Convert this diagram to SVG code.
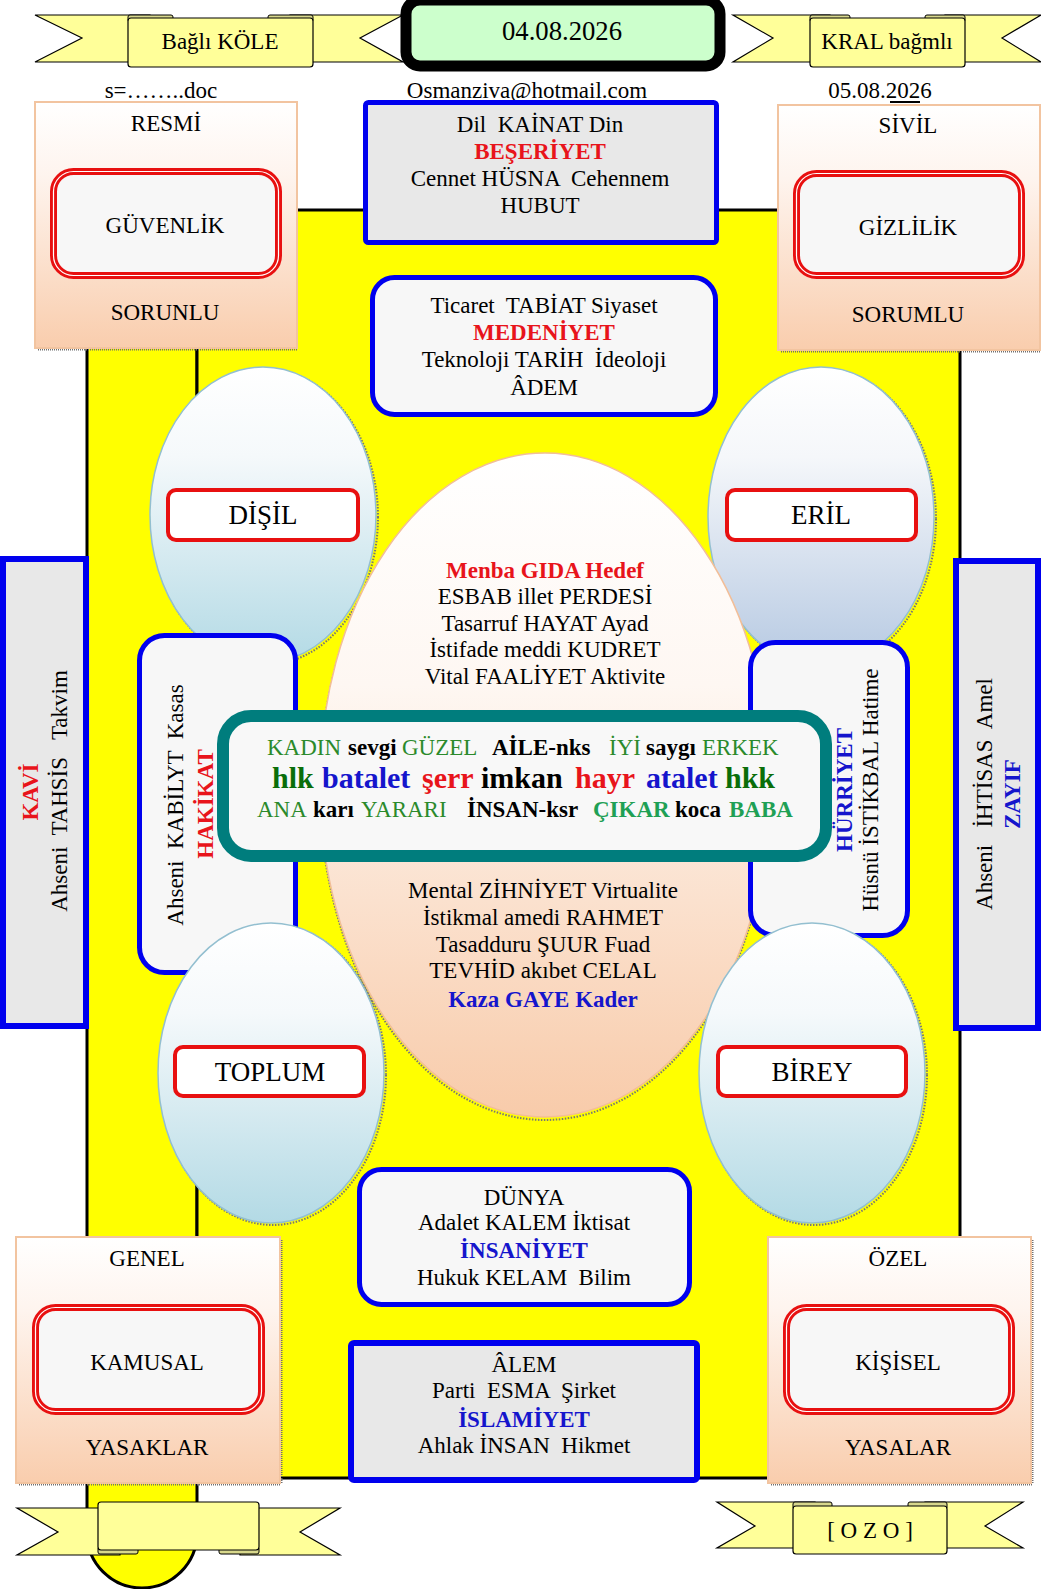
<svg xmlns="http://www.w3.org/2000/svg" width="1041" height="1589" viewBox="0 0 1041 1589" xml:space="preserve">
<style>
.t{font-family:"Liberation Serif","Times New Roman",serif;font-size:23px;fill:#000;white-space:pre}
.c{text-anchor:middle}
.b{font-weight:bold}
.red{fill:#E8141B}
.blue{fill:#1515CC}
.g1{fill:#2B8A2B}
.g2{fill:#0A6E0A}
.g3{fill:#1FA055}
.big{font-size:27px}
.peach{fill:url(#gPeach);stroke:#F2C4A0;stroke-width:2}
.shadow{fill:none;stroke:#6f6f6f;stroke-width:2;stroke-dasharray:1 1}
.dbl{fill:#F7F7F7;stroke:#E81010;stroke-width:7}
.dblw{fill:none;stroke:#fff;stroke-width:1.2}
.bluebox{stroke:#0000EE;stroke-width:5}
.lbl{fill:#fff;stroke:#E81010;stroke-width:4}
.rib{fill:#FFFF99;stroke:#000;stroke-width:1.2}
.fold{fill:#D8D88C;stroke:#000;stroke-width:1}
.ell{stroke:#93BFD0;stroke-width:1.5}
.eshadow{fill:none;stroke:#777;stroke-width:2;stroke-dasharray:1.5 1.5}
</style>
<defs>
<linearGradient id="gPeach" x1="0" y1="0" x2="0" y2="1"><stop offset="0" stop-color="#FFFFFF"/><stop offset="0.3" stop-color="#FEF4EE"/><stop offset="1" stop-color="#F9CDAD"/></linearGradient>
<linearGradient id="gBlue" x1="0" y1="0" x2="0" y2="1"><stop offset="0" stop-color="#FFFFFF"/><stop offset="0.3" stop-color="#F5F9FB"/><stop offset="1" stop-color="#B3DAE5"/></linearGradient>
<linearGradient id="gBlue2" x1="0" y1="0" x2="0" y2="1"><stop offset="0" stop-color="#FFFFFF"/><stop offset="0.3" stop-color="#F5F7FA"/><stop offset="1" stop-color="#B6C9E2"/></linearGradient>
<linearGradient id="gCenter" x1="0" y1="0" x2="0" y2="1"><stop offset="0" stop-color="#FFFFFF"/><stop offset="0.35" stop-color="#FEF7F2"/><stop offset="1" stop-color="#F8CBAA"/></linearGradient>
</defs>

<g id="background">
<path d="M87,250 L197,250 L197,1533 A55,55 0 0 1 87,1533 Z" fill="#FFFF00" stroke="#000" stroke-width="3"/>
<rect x="197" y="210" width="763" height="1268" fill="#FFFF00" stroke="#000" stroke-width="3"/>
</g>

<g id="ribbon-top-left">
<polygon class="rib" points="35,15 150,15 150,62 35,62 82,38"/>
<polygon class="rib" points="290,15 403,15 360,38 403,62 290,62"/>
<rect class="fold" x="128" y="15" width="45" height="7" rx="2"/>
<rect class="fold" x="268" y="15" width="45" height="7" rx="2"/>
<rect class="rib" x="128" y="18" width="185" height="49" rx="3"/>
<text class="t c" x="220" y="49">Bağlı KÖLE</text>
</g>

<g id="ribbon-top-right">
<polygon class="rib" points="733,15 830,15 830,62 733,62 773,38"/>
<polygon class="rib" points="945,15 1041,15 1002,38 1041,62 945,62"/>
<rect class="fold" x="810" y="15" width="40" height="7" rx="2"/>
<rect class="fold" x="925" y="15" width="40" height="7" rx="2"/>
<rect class="rib" x="810" y="18" width="155" height="49" rx="3"/>
<text class="t c" x="887" y="49">KRAL bağmlı</text>
</g>

<g id="date">
<rect x="406" y="0" width="314" height="66" rx="14" fill="#CCFFCC" stroke="#000" stroke-width="11"/>
<text class="t c" x="562" y="40" style="font-size:26.7px">04.08.2026</text>
</g>

<g id="header-texts">
<text class="t c" x="161" y="98">s=……..doc</text>
<text class="t c" x="527" y="98">Osmanziva@hotmail.com</text>
<text class="t c" x="880" y="98">05.08.2026</text>
<line x1="890" y1="102" x2="920" y2="102" stroke="#000" stroke-width="2"/>
</g>

<g id="resmi">
<line class="shadow" x1="38" y1="349.5" x2="298" y2="349.5"/>
<rect class="peach" x="35" y="102" width="262" height="246"/>
<text class="t c" x="166" y="131">RESMİ</text>
<rect class="dbl" x="53.5" y="171.5" width="225" height="104" rx="20"/>
<rect class="dblw" x="53.5" y="171.5" width="225" height="104" rx="20"/>
<text class="t c" x="165" y="233">GÜVENLİK</text>
<text class="t c" x="165" y="320">SORUNLU</text>
</g>

<g id="sivil">
<line class="shadow" x1="781" y1="351.5" x2="1041" y2="351.5"/>
<rect class="peach" x="778" y="105" width="262" height="245"/>
<text class="t c" x="908" y="133">SİVİL</text>
<rect class="dbl" x="796.5" y="173.5" width="225" height="102" rx="20"/>
<rect class="dblw" x="796.5" y="173.5" width="225" height="102" rx="20"/>
<text class="t c" x="908" y="235">GİZLİLİK</text>
<text class="t c" x="908" y="322">SORUMLU</text>
</g>

<g id="besheriyet">
<rect class="bluebox" x="365.5" y="102.5" width="351" height="140" rx="3" fill="#E8E8E8"/>
<text class="t c" x="540" y="132">Dil  KAİNAT Din</text>
<text class="t c b red" x="540" y="159">BEŞERİYET</text>
<text class="t c" x="540" y="186">Cennet HÜSNA  Cehennem</text>
<text class="t c" x="540" y="213">HUBUT</text>
</g>

<g id="medeniyet">
<rect class="bluebox" x="372.5" y="277.5" width="343" height="137" rx="22" fill="#F7F7F7"/>
<text class="t c" x="544" y="313">Ticaret  TABİAT Siyaset</text>
<text class="t c b red" x="544" y="340">MEDENİYET</text>
<text class="t c" x="544" y="367">Teknoloji TARİH  İdeoloji</text>
<text class="t c" x="544" y="395">ÂDEM</text>
</g>

<g id="disil">
<ellipse class="eshadow" cx="265" cy="517" rx="113" ry="148"/>
<ellipse class="ell" cx="263" cy="515" rx="113" ry="148" fill="url(#gBlue)"/>
<rect class="lbl" x="168" y="490" width="190" height="50" rx="8"/>
<text class="t c big" x="263" y="524">DİŞİL</text>
</g>

<g id="eril">
<ellipse class="eshadow" cx="823" cy="519" rx="113" ry="150"/>
<ellipse class="ell" cx="821" cy="517" rx="113" ry="150" fill="url(#gBlue2)"/>
<rect class="lbl" x="727" y="490" width="189" height="50" rx="8"/>
<text class="t c big" x="821" y="524">ERİL</text>
</g>

<g id="center">
<ellipse class="eshadow" cx="545" cy="788" rx="225" ry="332"/>
<ellipse cx="545" cy="785" rx="225" ry="332" fill="url(#gCenter)" stroke="#F2BE98" stroke-width="1.5"/>
<text class="t c b red" x="545" y="578">Menba GIDA Hedef</text>
<text class="t c" x="545" y="604">ESBAB illet PERDESİ</text>
<text class="t c" x="545" y="631">Tasarruf HAYAT Ayad</text>
<text class="t c" x="545" y="657">İstifade meddi KUDRET</text>
<text class="t c" x="545" y="684">Vital FAALİYET Aktivite</text>
<text class="t c" x="543" y="898">Mental ZİHNİYET Virtualite</text>
<text class="t c" x="543" y="925">İstikmal amedi RAHMET</text>
<text class="t c" x="543" y="952">Tasadduru ŞUUR Fuad</text>
<text class="t c" x="543" y="978">TEVHİD akıbet CELAL</text>
<text class="t c b blue" x="543" y="1007">Kaza GAYE Kader</text>
</g>

<g id="kavi">
<rect x="3" y="559" width="83" height="467" fill="#E8E8E8" stroke="#0000EE" stroke-width="6"/>
<text class="t c" x="67" y="791" transform="rotate(-90 67 791)">Ahseni  TAHSİS   Takvim</text>
<text class="t c b red" x="38" y="792" transform="rotate(-90 38 792)">KAVİ</text>
</g>

<g id="zayif">
<rect x="956" y="561" width="82" height="467" fill="#E8E8E8" stroke="#0000EE" stroke-width="6"/>
<text class="t c" x="992" y="794" transform="rotate(-90 992 794)">Ahseni   İHTİSAS  Amel</text>
<text class="t c b blue" x="1020" y="794" transform="rotate(-90 1020 794)">ZAYIF</text>
</g>

<g id="hakikat">
<rect class="bluebox" x="139.5" y="635.5" width="156" height="337" rx="25" fill="#F7F7F7"/>
</g>

<g id="hurriyet">
<rect class="bluebox" x="750.5" y="642.5" width="157" height="293" rx="25" fill="#F7F7F7"/>
</g>

<g id="aile">
<rect x="223" y="716" width="603" height="140" rx="28" fill="#F8F8F8" stroke="#007D7D" stroke-width="12"/>
<text class="t" y="755"><tspan class="g1" x="267">KADIN</tspan><tspan class="b" x="348">sevgi</tspan><tspan class="g1" x="402">GÜZEL</tspan><tspan class="b" x="492">AİLE-nks</tspan><tspan class="g1" x="609">İYİ</tspan><tspan class="b" x="646">saygı</tspan><tspan class="g1" x="702">ERKEK</tspan></text>
<text class="t b" style="font-size:30px" y="788"><tspan class="g2" x="272">hlk</tspan><tspan class="blue" x="322">batalet</tspan><tspan class="red" x="422">şerr</tspan><tspan x="481">imkan</tspan><tspan class="red" x="575">hayr</tspan><tspan class="blue" x="646">atalet</tspan><tspan class="g2" x="725">hkk</tspan></text>
<text class="t" y="817"><tspan class="g1" x="257">ANA</tspan><tspan class="b" x="313">karı</tspan><tspan class="g1" x="361">YARARI</tspan><tspan class="b" x="467">İNSAN-ksr</tspan><tspan class="b g3" x="593">ÇIKAR</tspan><tspan class="b" x="675">koca</tspan><tspan class="b g3" x="729">BABA</tspan></text>
</g>

<g id="hakikat-text">
<text class="t c" x="183" y="805" transform="rotate(-90 183 805)">Ahseni  KABİLYT  Kasas</text>
<text class="t c b red" x="213" y="804" transform="rotate(-90 213 804)">HAKİKAT</text>
</g>

<g id="hurriyet-text">
<text class="t c" x="878" y="790" transform="rotate(-90 878 790)">Hüsnü İSTİKBAL Hatime</text>
<text class="t c b blue" x="852" y="790" transform="rotate(-90 852 790)">HÜRRİYET</text>
</g>

<g id="toplum">
<ellipse class="eshadow" cx="273" cy="1075" rx="113" ry="150"/>
<ellipse class="ell" cx="271" cy="1073" rx="113" ry="150" fill="url(#gBlue)"/>
<rect class="lbl" x="175" y="1047" width="189" height="49" rx="8"/>
<text class="t c big" x="270" y="1081">TOPLUM</text>
</g>

<g id="birey">
<ellipse class="eshadow" cx="814" cy="1075" rx="113" ry="150"/>
<ellipse class="ell" cx="812" cy="1073" rx="113" ry="150" fill="url(#gBlue)"/>
<rect class="lbl" x="718" y="1047" width="188" height="49" rx="8"/>
<text class="t c big" x="812" y="1081">BİREY</text>
</g>

<g id="insaniyet">
<rect class="bluebox" x="359.5" y="1169.5" width="330" height="135" rx="22" fill="#F7F7F7"/>
<text class="t c" x="524" y="1205">DÜNYA</text>
<text class="t c" x="524" y="1230">Adalet KALEM İktisat</text>
<text class="t c b blue" x="524" y="1258">İNSANİYET</text>
<text class="t c" x="524" y="1285">Hukuk KELAM  Bilim</text>
</g>

<g id="islamiyet">
<rect x="351" y="1343" width="346" height="137" rx="3" fill="#E8E8E8" stroke="#0000EE" stroke-width="6"/>
<text class="t c" x="524" y="1372">ÂLEM</text>
<text class="t c" x="524" y="1398">Parti  ESMA  Şirket</text>
<text class="t c b blue" x="524" y="1427">İSLAMİYET</text>
<text class="t c" x="524" y="1453">Ahlak İNSAN  Hikmet</text>
</g>

<g id="genel">
<line class="shadow" x1="19" y1="1484.5" x2="281" y2="1484.5"/>
<line class="shadow" x1="281.5" y1="1240" x2="281.5" y2="1484"/>
<rect class="peach" x="16" y="1237" width="264" height="246"/>
<text class="t c" x="147" y="1266">GENEL</text>
<rect class="dbl" x="35.5" y="1307.5" width="226" height="104" rx="20"/>
<rect class="dblw" x="35.5" y="1307.5" width="226" height="104" rx="20"/>
<text class="t c" x="147" y="1370">KAMUSAL</text>
<text class="t c" x="147" y="1455">YASAKLAR</text>
</g>

<g id="ozel">
<line class="shadow" x1="771" y1="1484.5" x2="1032" y2="1484.5"/>
<line class="shadow" x1="1032.5" y1="1240" x2="1032.5" y2="1484"/>
<rect class="peach" x="768" y="1237" width="263" height="246"/>
<text class="t c" x="898" y="1266">ÖZEL</text>
<rect class="dbl" x="786.5" y="1307.5" width="225" height="104" rx="20"/>
<rect class="dblw" x="786.5" y="1307.5" width="225" height="104" rx="20"/>
<text class="t c" x="898" y="1370">KİŞİSEL</text>
<text class="t c" x="898" y="1455">YASALAR</text>
</g>

<g id="ribbon-bottom-left">
<polygon class="rib" points="17,1508 120,1508 120,1555 17,1555 58,1532"/>
<polygon class="rib" points="240,1508 340,1508 300,1532 340,1555 240,1555"/>
<rect class="fold" x="98" y="1547" width="40" height="7" rx="2"/>
<rect class="fold" x="219" y="1547" width="40" height="7" rx="2"/>
<rect class="rib" x="98" y="1502" width="161" height="48" rx="3"/>
</g>

<g id="ribbon-bottom-right">
<polygon class="rib" points="717,1502 815,1502 815,1548 717,1548 755,1526"/>
<polygon class="rib" points="925,1502 1023,1502 985,1526 1023,1548 925,1548"/>
<rect class="fold" x="793" y="1502" width="39" height="7" rx="2"/>
<rect class="fold" x="908" y="1502" width="39" height="7" rx="2"/>
<rect class="rib" x="793" y="1506" width="154" height="48" rx="3"/>
<text class="t c" x="870" y="1538">[ O Z O ]</text>
</g>
</svg>
